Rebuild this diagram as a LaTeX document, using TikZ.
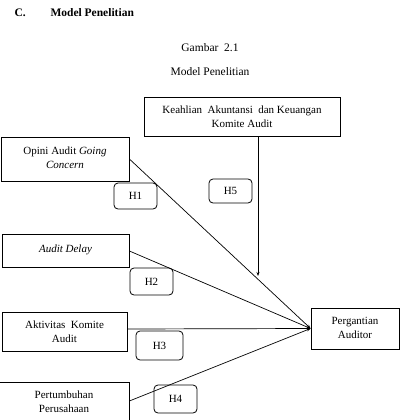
\documentclass[tikz,border=0pt]{standalone}
\usepackage{fontspec}
\setmainfont{Liberation Serif}
\usetikzlibrary{arrows.meta}
\begin{document}
\begin{tikzpicture}[x=1pt,y=-1pt,
  font=\fontsize{11}{14}\selectfont,
  vbox/.style={draw,line width=0.8pt,inner sep=0pt,align=center},
  hbox/.style={draw,line width=0.8pt,rounded corners=4pt,inner sep=0pt},
  link/.style={line width=0.7pt,-{Stealth[length=4pt,width=3pt]}}]
\useasboundingbox (0,0) rectangle (403,420);
\clip (0,0) rectangle (403,420);
% titles
\node[font=\fontsize{11.5}{14}\selectfont\bfseries,anchor=west] (c) at (11,13) {C.};
\node[font=\fontsize{11.5}{14}\selectfont\bfseries,anchor=west] (mp) at (47,13) {Model Penelitian};
\node[font=\fontsize{11.5}{14}\selectfont] (g) at (210,48) {Gambar\ \ 2.1};
\node[font=\fontsize{11.5}{14}\selectfont] (m) at (210,72) {Model Penelitian};
% boxes
\node[vbox,minimum width=196,minimum height=39] (k) at (242,116.5) {Keahlian\ \ Akuntansi\ \ dan Keuangan\\Komite Audit};
\node[vbox,minimum width=128,minimum height=44] (o) at (65,159) {\raisebox{3pt}{\begin{tabular}{@{}c@{}}Opini Audit \textit{Going}\\\textit{Concern}\end{tabular}}};
\node[vbox,minimum width=127,minimum height=33] (d) at (65.5,250.5) {\raisebox{3pt}{\textit{Audit Delay}}};
\node[vbox,minimum width=125,minimum height=39] (a) at (64.5,331.5) {Aktivitas\ \ Komite\\Audit};
\node[vbox,minimum width=130,minimum height=40] (p) at (64,402) {Pertumbuhan\\Perusahaan};
\node[vbox,minimum width=88,minimum height=41] (pa) at (355,328.5) {\raisebox{2pt}{\begin{tabular}{@{}c@{}}Pergantian\\Auditor\end{tabular}}};
% hypothesis labels
\node[hbox,minimum width=43,minimum height=26] (h1) at (135.5,196) {H1};
\node[hbox,minimum width=43,minimum height=24] (h5) at (230.5,191) {H5};
\node[hbox,minimum width=43,minimum height=27] (h2) at (151.5,281.5) {H2};
\node[hbox,minimum width=47,minimum height=29] (h3) at (159.5,345.5) {H3};
\node[hbox,minimum width=43,minimum height=28] (h4) at (175.5,399) {H4};
% connectors
\coordinate (tip) at (258,276);
\draw[link] (o.east |- 0,159) -- (pa.west);
\draw[link] (d.east |- 0,251) -- (pa.west);
\draw[link] (a.east |- 0,329) -- (pa.west);
\draw[link] (p.east |- 0,401) -- (pa.west);
\draw[link] (k.south -| tip) -- (tip);
\end{tikzpicture}
\end{document}
